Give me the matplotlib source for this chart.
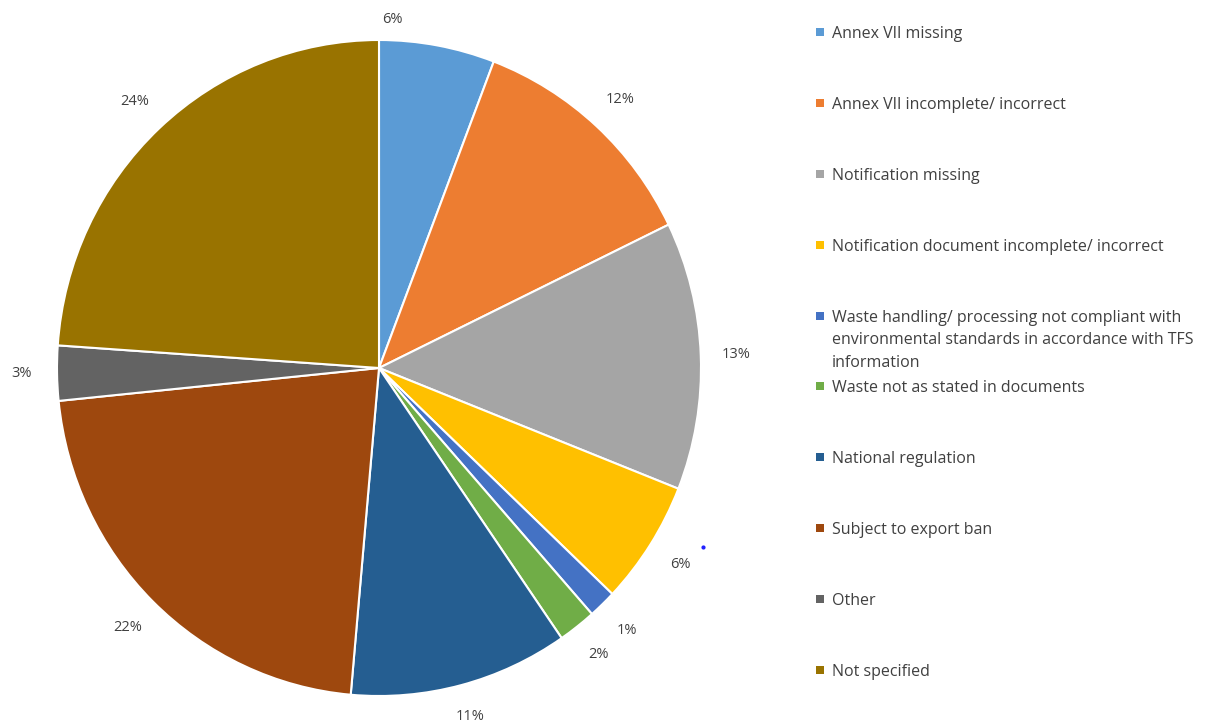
import numpy as np
import matplotlib
matplotlib.use("Agg")
import matplotlib.pyplot as plt
from matplotlib.lines import Line2D
from matplotlib.patches import Rectangle

# share of cases per reason (%), clockwise from 12 o'clock
reasons = [
    "Annex VII missing",
    "Annex VII incomplete/ incorrect",
    "Notification missing",
    "Notification document incomplete/ incorrect",
    "Waste handling/ processing not compliant with\nenvironmental standards in accordance with TFS\ninformation",
    "Waste not as stated in documents",
    "National regulation",
    "Subject to export ban",
    "Other",
    "Not specified",
]
shares = [5.8, 12.0, 13.2, 6.1, 1.4, 1.9, 11.0, 22.0, 2.7, 23.9]
colors = ["#5B9BD5", "#ED7D31", "#A5A5A5", "#FFC000", "#4472C4",
          "#70AD47", "#255E91", "#9E480E", "#636363", "#997300"]

W, H = 1208, 726
fig = plt.figure(figsize=(W / 100, H / 100), dpi=100)
fig.patch.set_facecolor("white")

cx, cy, rx, ry = 379, 368, 322, 328
ax = fig.add_axes([(cx - rx) / W, (H - cy - ry) / H, 2 * rx / W, 2 * ry / H])

wedges, _ = ax.pie(shares, colors=colors, startangle=90, counterclock=False,
                   wedgeprops=dict(edgecolor="white", linewidth=1.5))
ax.set_aspect("auto")
ax.set_xlim(-1, 1)
ax.set_ylim(-1, 1)
ax.axis("off")

# outside-end percentage labels
pct_font = dict(family="Open Sans", fontsize=10.5, color="#404040")
nudge = {0: (-0.16, -0.03), 6: (0, 0.01)}  # keep crowded labels near their slices
for i, w in enumerate(wedges):
    mid = np.deg2rad((w.theta1 + w.theta2) / 2)
    r = 1.11
    dx, dy = nudge.get(i, (0, 0))
    x = r * np.cos(mid) + dx
    y = r * np.sin(mid) + dy
    ax.text(x, y, f"{shares[i]:.0f}%", ha="center", va="center", **pct_font)

# legend on the right
leg_font = dict(family="Open Sans", fontsize=11.5, color="#404040")
y_top, step = 32, (670 - 32) / 9
for i, (lab, col) in enumerate(zip(reasons, colors)):
    y = y_top + i * step
    fig.patches.append(Rectangle((816 / W, 1 - (y + 4) / H), 8 / W, 8 / H,
                                 transform=fig.transFigure, facecolor=col,
                                 edgecolor="none"))
    fig.text(832 / W, 1 - (y - 6) / H, lab, ha="left", va="top",
             linespacing=1.55, **leg_font)

# stray blue dot beside the chart
fig.add_artist(Line2D([703 / W], [1 - 547 / H], marker="o", markersize=2,
                      color="#2020FF", transform=fig.transFigure))

fig.savefig("out.png", dpi=100)
